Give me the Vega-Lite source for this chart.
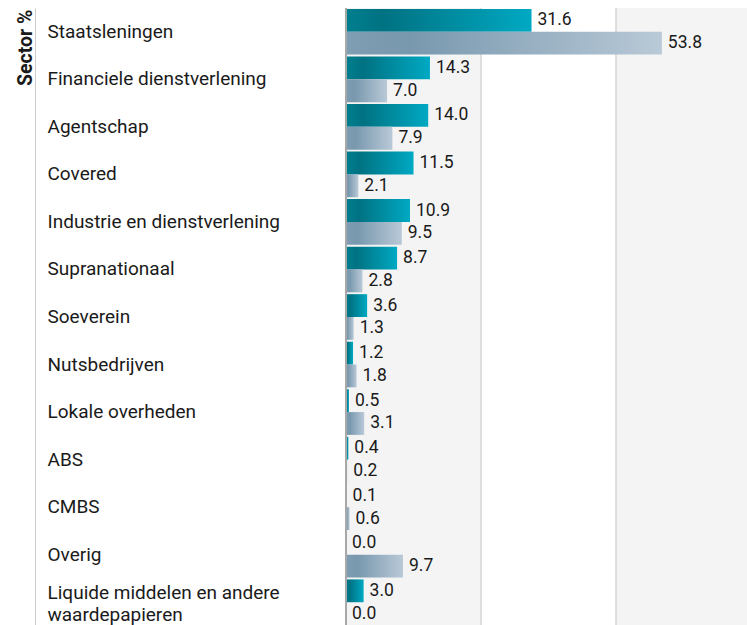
{
  "$schema": "https://vega.github.io/schema/vega-lite/v6.json",
  "width": 401,
  "height": 618,
  "autosize": {"type": "none"},
  "padding": {"left": 346, "top": 8, "right": 0, "bottom": 0},
  "config": {"view": {"stroke": null, "fill": "#f4f4f4"}, "font": "Roboto"},
  "data": {"values": [
    {"sector": "Staatsleningen", "series": "Fonds", "value": 31.6},
    {"sector": "Staatsleningen", "series": "Benchmark", "value": 53.8},
    {"sector": "Financiele dienstverlening", "series": "Fonds", "value": 14.3},
    {"sector": "Financiele dienstverlening", "series": "Benchmark", "value": 7.0},
    {"sector": "Agentschap", "series": "Fonds", "value": 14.0},
    {"sector": "Agentschap", "series": "Benchmark", "value": 7.9},
    {"sector": "Covered", "series": "Fonds", "value": 11.5},
    {"sector": "Covered", "series": "Benchmark", "value": 2.1},
    {"sector": "Industrie en dienstverlening", "series": "Fonds", "value": 10.9},
    {"sector": "Industrie en dienstverlening", "series": "Benchmark", "value": 9.5},
    {"sector": "Supranationaal", "series": "Fonds", "value": 8.7},
    {"sector": "Supranationaal", "series": "Benchmark", "value": 2.8},
    {"sector": "Soeverein", "series": "Fonds", "value": 3.6},
    {"sector": "Soeverein", "series": "Benchmark", "value": 1.3},
    {"sector": "Nutsbedrijven", "series": "Fonds", "value": 1.2},
    {"sector": "Nutsbedrijven", "series": "Benchmark", "value": 1.8},
    {"sector": "Lokale overheden", "series": "Fonds", "value": 0.5},
    {"sector": "Lokale overheden", "series": "Benchmark", "value": 3.1},
    {"sector": "ABS", "series": "Fonds", "value": 0.4},
    {"sector": "ABS", "series": "Benchmark", "value": 0.2},
    {"sector": "CMBS", "series": "Fonds", "value": 0.1},
    {"sector": "CMBS", "series": "Benchmark", "value": 0.6},
    {"sector": "Overig", "series": "Fonds", "value": 0.0},
    {"sector": "Overig", "series": "Benchmark", "value": 9.7},
    {"sector": "Liquide middelen en andere waardepapieren", "series": "Fonds", "value": 3.0},
    {"sector": "Liquide middelen en andere waardepapieren", "series": "Benchmark", "value": 0.0}
  ]},
  "layer": [
    {
      "data": {"values": [{"a": 23, "b": 46}]},
      "mark": {"type": "rect", "color": "#ffffff"},
      "encoding": {
        "x": {"field": "a", "type": "quantitative", "scale": {"domain": [0, 68.3], "nice": false}, "axis": null},
        "x2": {"field": "b"}
      }
    },
    {
      "data": {"values": [{"g": 23}, {"g": 46}]},
      "mark": {"type": "rule", "color": "#dddddd", "strokeWidth": 2},
      "encoding": {"x": {"field": "g", "type": "quantitative"}}
    },
    {
      "transform": [{"filter": "datum.series == 'Fonds'"}],
      "mark": {"type": "bar", "color": {"gradient": "linear", "x1": 0, "y1": 0, "x2": 1, "y2": 0, "stops": [
        {"offset": 0, "color": "#007f8f"},
        {"offset": 0.2, "color": "#007282"},
        {"offset": 1, "color": "#00a9c3"}
      ]}},
      "encoding": {
        "y": {
          "field": "sector", "type": "nominal", "sort": null,
          "scale": {"paddingInner": 0.04, "paddingOuter": 0.02},
          "axis": {
            "title": "Sector %",
            "titleFontSize": 19.5, "titleFontWeight": "bold", "titleColor": "#1a1a1a",
            "titleAngle": 270, "titleAlign": "right", "titleBaseline": "alphabetic",
            "titleX": -4, "titleY": 1,
            "offset": 311,
            "domainColor": "#cccccc", "domainWidth": 1,
            "ticks": false,
            "labelAlign": "left", "labelPadding": -12,
            "labelFontSize": 19, "labelColor": "#1a1a1a", "labelLimit": 400,
            "labelLineHeight": 22,
            "labelOffset": {"condition": {"test": "datum.value == 'Liquide middelen en andere waardepapieren'", "value": -9}, "value": 0},
            "labelExpr": "datum.value == 'Liquide middelen en andere waardepapieren' ? ['Liquide middelen en andere', 'waardepapieren'] : datum.value"
          }
        },
        "yOffset": {"field": "series", "type": "nominal", "sort": ["Fonds", "Benchmark"], "scale": {"paddingInner": 0, "paddingOuter": 0}},
        "x": {"field": "value", "type": "quantitative"}
      }
    },
    {
      "transform": [{"filter": "datum.series == 'Benchmark'"}],
      "mark": {"type": "bar", "color": {"gradient": "linear", "x1": 0, "y1": 0, "x2": 1, "y2": 0, "stops": [
        {"offset": 0, "color": "#7f9db3"},
        {"offset": 0.2, "color": "#7898ae"},
        {"offset": 1, "color": "#b9c9d7"}
      ]}},
      "encoding": {
        "y": {"field": "sector", "type": "nominal", "sort": null},
        "yOffset": {"field": "series", "type": "nominal", "sort": ["Fonds", "Benchmark"]},
        "x": {"field": "value", "type": "quantitative"}
      }
    },
    {
      "mark": {"type": "rule", "color": "#a8a8a8", "strokeWidth": 2},
      "encoding": {"x": {"datum": 0, "type": "quantitative"}}
    },
    {
      "mark": {"type": "text", "align": "left", "baseline": "middle", "dx": 6, "fontSize": 17.5, "color": "#1a1a1a"},
      "encoding": {
        "y": {"field": "sector", "type": "nominal", "sort": null},
        "yOffset": {"field": "series", "type": "nominal", "sort": ["Fonds", "Benchmark"]},
        "x": {"field": "value", "type": "quantitative"},
        "text": {"field": "value", "type": "quantitative", "format": ".1f"}
      }
    }
  ]
}
